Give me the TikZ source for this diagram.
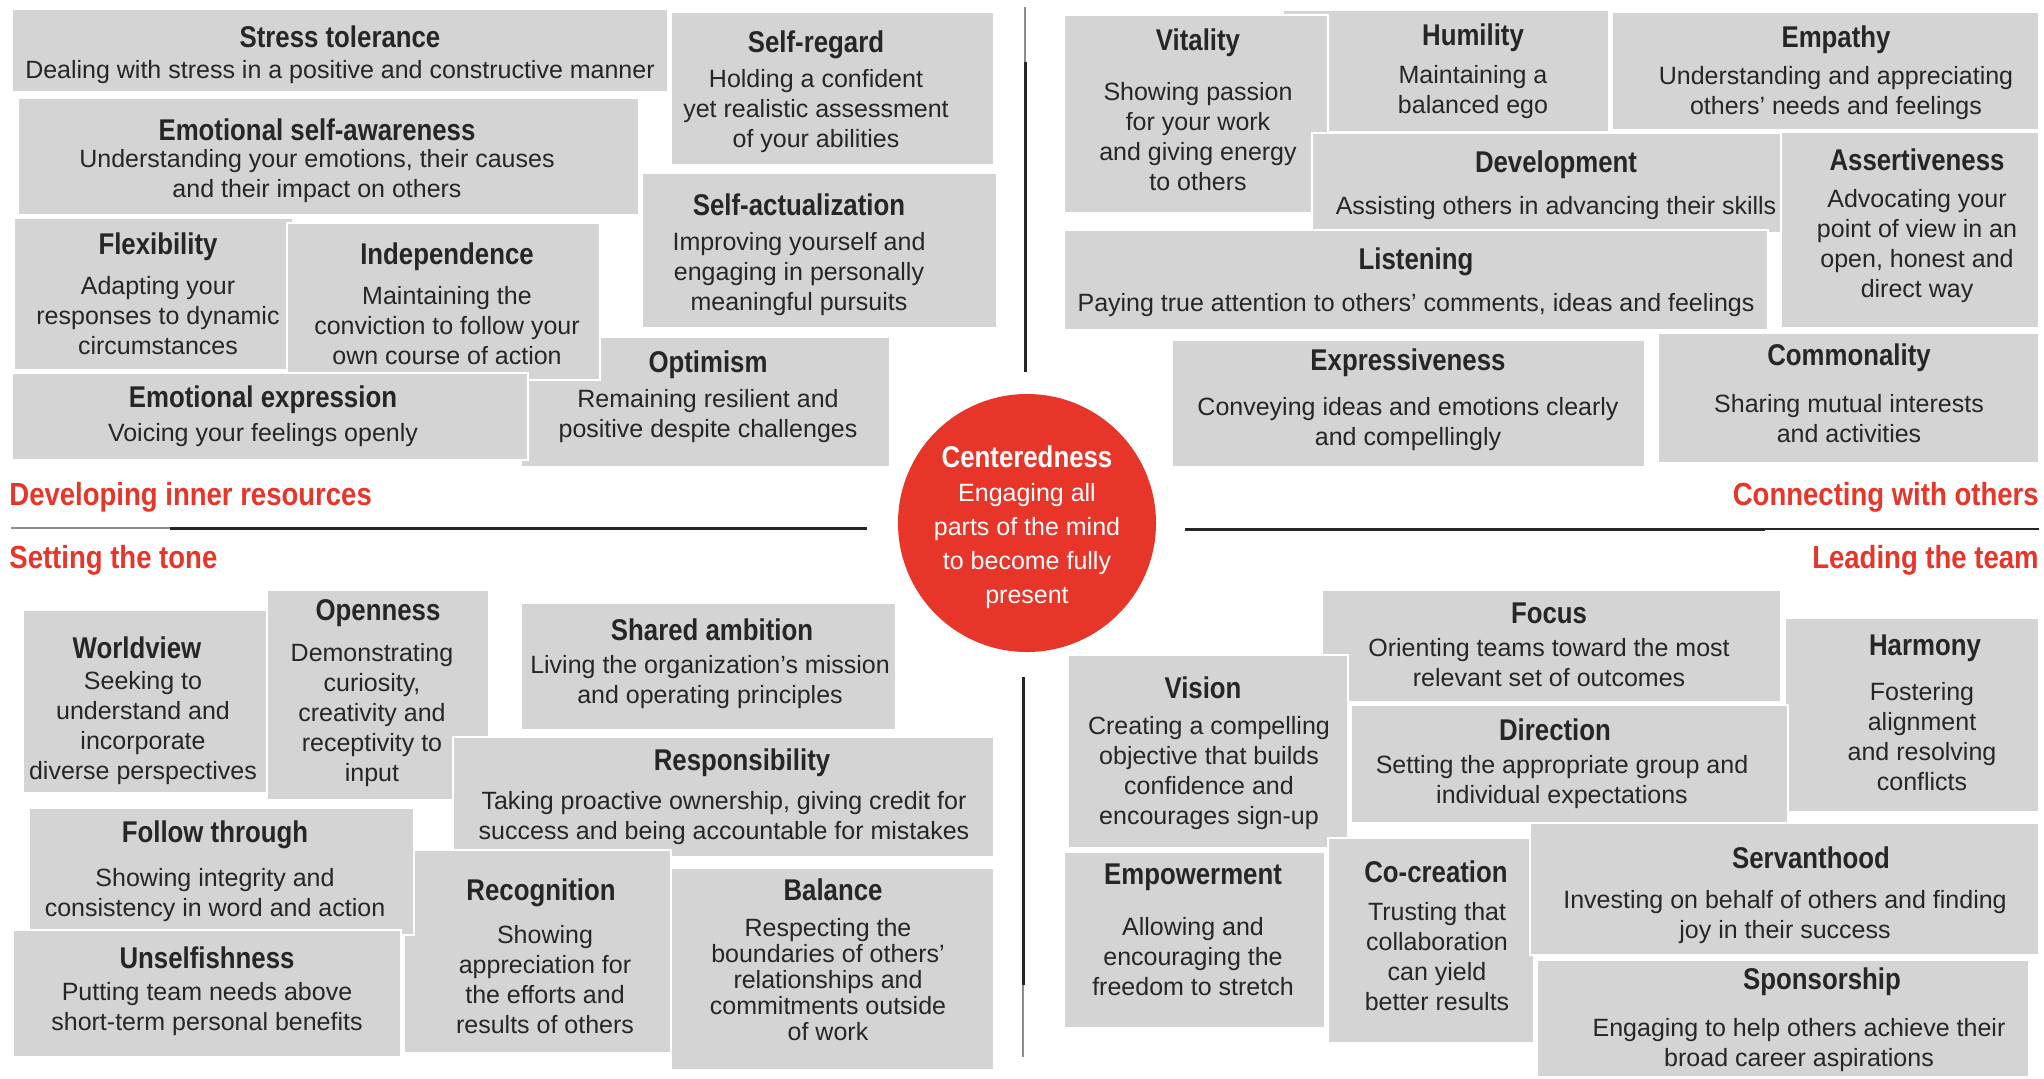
\documentclass[tikz,border=0pt]{standalone}
\usepackage{fontspec}
\setmainfont{Liberation Sans}
\newfontfamily\ttlfont{Liberation Sans}[FakeStretch=0.86]
\definecolor{boxc}{HTML}{D4D4D4}
\definecolor{redc}{HTML}{E8352A}
\definecolor{txtc}{HTML}{262626}
\tikzset{
 card/.style={fill=boxc, draw=white, line width=1.2pt},
 ttl/.style={font=\ttlfont\bfseries\fontsize{15}{17}\selectfont, text=txtc, inner sep=0pt, align=center},
 dsc/.style={font=\fontsize{12.5}{15}\selectfont, text=txtc, inner sep=0pt, align=center},
 dsctight/.style={font=\fontsize{12.5}{13}\selectfont, text=txtc, inner sep=0pt, align=center},
 lbl/.style={font=\ttlfont\bfseries\fontsize{16}{18}\selectfont, text=redc, inner sep=0pt},
 ctl/.style={font=\ttlfont\bfseries\fontsize{15}{17}\selectfont, text=white, inner sep=0pt, align=center},
 cds/.style={font=\fontsize{12.5}{17}\selectfont, text=white, inner sep=0pt, align=center},
 axis/.style={line width=1.5pt, draw=black!85},
 axisthin/.style={line width=0.6pt, draw=black!45},
}
\begin{document}
\begin{tikzpicture}[x=0.5pt,y=-0.5pt]
\fill[white] (0,0) rectangle (2044,1078);
\useasboundingbox (0,0) rectangle (2044,1078);

% axis lines
\coordinate (t1) at (1025,7); \coordinate (t2) at (1025,62); \coordinate (t3) at (1025,372);
\coordinate (b1) at (1023,677); \coordinate (b2) at (1023,985); \coordinate (b3) at (1023,1057);
\coordinate (h1) at (11,528); \coordinate (h2) at (170,528); \coordinate (h3) at (867,528);
\coordinate (r1) at (1185,529); \coordinate (r2) at (1765,529); \coordinate (r3) at (2039,529);
\draw[axisthin] (t1) -- (t2);
\draw[axis] (t2) -- (t3);
\draw[axis] (b1) -- (b2);
\draw[axisthin] (b2) -- (b3);
\draw[axisthin] (h1) -- (h2);
\draw[axis] (h2) -- (h3);
\draw[axis] (r1) -- (r2);
\draw[axis, line width=1pt] (r2) -- (r3);

% ---------- top left ----------
\fill[card] (12,9) rectangle (668,92);
\node[ttl] (st) at (340,37) {Stress tolerance};
\node[dsc] (std) at (340,72) {Dealing with stress in a positive and constructive manner};

\fill[card] (671,12) rectangle (994,165);
\node[ttl] (sr) at (816,45) {Self-regard};
\node[dsc] (srd) at (816,111) {Holding a confident\\yet realistic assessment\\of your abilities};

\fill[card] (18,98) rectangle (639,215);
\node[ttl] (esa) at (317,130) {Emotional self-awareness};
\node[dsc] (esad) at (317,176) {Understanding your emotions, their causes\\and their impact on others};

\fill[card] (642,173) rectangle (997,328);
\node[ttl] (sa) at (799,205) {Self-actualization};
\node[dsc] (sad) at (799,274) {Improving yourself and\\engaging in personally\\meaningful pursuits};

\fill[card] (521,337) rectangle (890,467);
\node[ttl] (op) at (708,365) {Optimism};
\node[dsc] (opd) at (708,416) {Remaining resilient and\\positive despite challenges};

\fill[card] (14,218) rectangle (293,370);
\node[ttl] (fl) at (158,247) {Flexibility};
\node[dsc] (fld) at (158,316) {Adapting your\\responses to dynamic\\circumstances};

\fill[card] (287,223) rectangle (600,380);
\node[ttl] (in) at (447,257) {Independence};
\node[dsc] (ind) at (447,326) {Maintaining the\\conviction to follow your\\own course of action};

\fill[card] (12,373) rectangle (528,460);
\node[ttl] (ee) at (263,400) {Emotional expression};
\node[dsc] (eed) at (263,435) {Voicing your feelings openly};

% ---------- top right ----------
\fill[card] (1283,10) rectangle (1609,132);
\node[ttl] (hu) at (1473,38) {Humility};
\node[dsc] (hud) at (1473,92) {Maintaining a\\balanced ego};

\fill[card] (1064,15) rectangle (1328,213);
\node[ttl] (vi) at (1198,43) {Vitality};
\node[dsc] (vid) at (1198,137) {Showing passion\\for your work\\and giving energy\\to others};

\fill[card] (1612,12) rectangle (2039,130);
\node[ttl] (em) at (1836,40) {Empathy};
\node[dsc] (emd) at (1836,93) {Understanding and appreciating\\others' needs and feelings};

\fill[card] (1312,133) rectangle (1791,233);
\node[ttl] (de) at (1556,165) {Development};
\node[dsc] (ded) at (1556,208) {Assisting others in advancing their skills};

\fill[card] (1781,132) rectangle (2039,328);
\node[ttl] (as) at (1917,160) {Assertiveness};
\node[dsc] (asd) at (1917,246) {Advocating your\\point of view in an\\open, honest and\\direct way};

\fill[card] (1064,230) rectangle (1768,330);
\node[ttl] (li) at (1416,262) {Listening};
\node[dsc] (lid) at (1416,305) {Paying true attention to others' comments, ideas and feelings};

\fill[card] (1172,340) rectangle (1645,467);
\node[ttl] (ex) at (1408,363) {Expressiveness};
\node[dsc] (exd) at (1408,424) {Conveying ideas and emotions clearly\\and compellingly};

\fill[card] (1658,333) rectangle (2039,463);
\node[ttl] (cm) at (1849,358) {Commonality};
\node[dsc] (cmd) at (1849,419) {Sharing mutual interests\\and activities};

% ---------- bottom left ----------
\fill[card] (23,610) rectangle (274,793);
\node[ttl] (wv) at (137,648) {Worldview};
\node[dsc] (wvd) at (143,728) {Seeking to\\understand and\\incorporate\\diverse perspectives};

\fill[card] (267,590) rectangle (489,800);
\node[ttl] (opn) at (378,613) {Openness};
\node[dsc] (opnd) at (372,715) {Demonstrating\\curiosity,\\creativity and\\receptivity to\\input};

\fill[card] (521,603) rectangle (896,730);
\node[ttl] (sha) at (712,630) {Shared ambition};
\node[dsc] (shad) at (710,682) {Living the organization's mission\\and operating principles};

\fill[card] (453,737) rectangle (994,857);
\node[ttl] (re) at (742,763) {Responsibility};
\node[dsc] (red) at (724,818) {Taking proactive ownership, giving credit for\\success and being accountable for mistakes};

\fill[card] (404,850) rectangle (671,1053);
\node[ttl] (rc) at (541,893) {Recognition};
\node[dsc] (rcd) at (545,980) {Showing\\appreciation for\\the efforts and\\results of others};

\fill[card] (29,808) rectangle (414,935);
\node[ttl] (ft) at (215,835) {Follow through};
\node[dsc] (ftd) at (215,895) {Showing integrity and\\consistency in word and action};

\fill[card] (13,930) rectangle (401,1057);
\node[ttl] (un) at (207,958) {Unselfishness};
\node[dsc] (und) at (207,1009) {Putting team needs above\\short-term personal benefits};

\fill[card] (671,868) rectangle (994,1070);
\node[ttl] (ba) at (833,890) {Balance};
\node[dsctight] (bad) at (828,980) {Respecting the\\boundaries of others'\\relationships and\\commitments outside\\of work};

% ---------- bottom right ----------
\fill[card] (1322,590) rectangle (1781,702);
\node[ttl] (fo) at (1549,613) {Focus};
\node[dsc] (fod) at (1549,663) {Orienting teams toward the most\\relevant set of outcomes};

\fill[card] (1785,618) rectangle (2039,812);
\node[ttl] (ha) at (1925,648) {Harmony};
\node[dsc] (had) at (1922,737) {Fostering\\alignment\\and resolving\\conflicts};

\fill[card] (1068,655) rectangle (1348,848);
\node[ttl] (vs) at (1203,688) {Vision};
\node[dsc] (vsd) at (1209,773) {Creating a compelling\\objective that builds\\confidence and\\encourages sign-up};

\fill[card] (1351,705) rectangle (1788,823);
\node[ttl] (di) at (1555,730) {Direction};
\node[dsc] (did) at (1562,782) {Setting the appropriate group and\\individual expectations};

\fill[card] (1064,852) rectangle (1325,1028);
\node[ttl] (ep) at (1193,877) {Empowerment};
\node[dsc] (epd) at (1193,957) {Allowing and\\encouraging the\\freedom to stretch};

\fill[card] (1328,838) rectangle (1534,1043);
\node[ttl] (cc) at (1436,872) {Co-creation};
\node[dsc] (ccd) at (1437,957) {Trusting that\\collaboration\\can yield\\better results};

\fill[card] (1530,823) rectangle (2039,955);
\node[ttl] (sv) at (1811,858) {Servanthood};
\node[dsc] (svd) at (1785,917) {Investing on behalf of others and finding\\joy in their success};

\fill[card] (1537,960) rectangle (2029,1077);
\node[ttl] (sp) at (1822,982) {Sponsorship};
\node[dsc] (spd) at (1799,1045) {Engaging to help others achieve their\\broad career aspirations};

% ---------- center ----------
\node[circle, fill=redc, minimum size=129pt, inner sep=0pt] (cen) at (1027,523) {};
\node[ctl] (cent) at (1027,457) {Centeredness};
\node[cds] (cend) at (1027,546) {Engaging all\\parts of the mind\\to become fully\\present};

% ---------- section labels ----------
\node[lbl, anchor=base west] (l1) at (9,505) {Developing inner resources};
\node[lbl, anchor=base west] (l2) at (9,568) {Setting the tone};
\node[lbl, anchor=base east] (l3) at (2039,505) {Connecting with others};
\node[lbl, anchor=base east] (l4) at (2039,568) {Leading the team};
\end{tikzpicture}
\end{document}
